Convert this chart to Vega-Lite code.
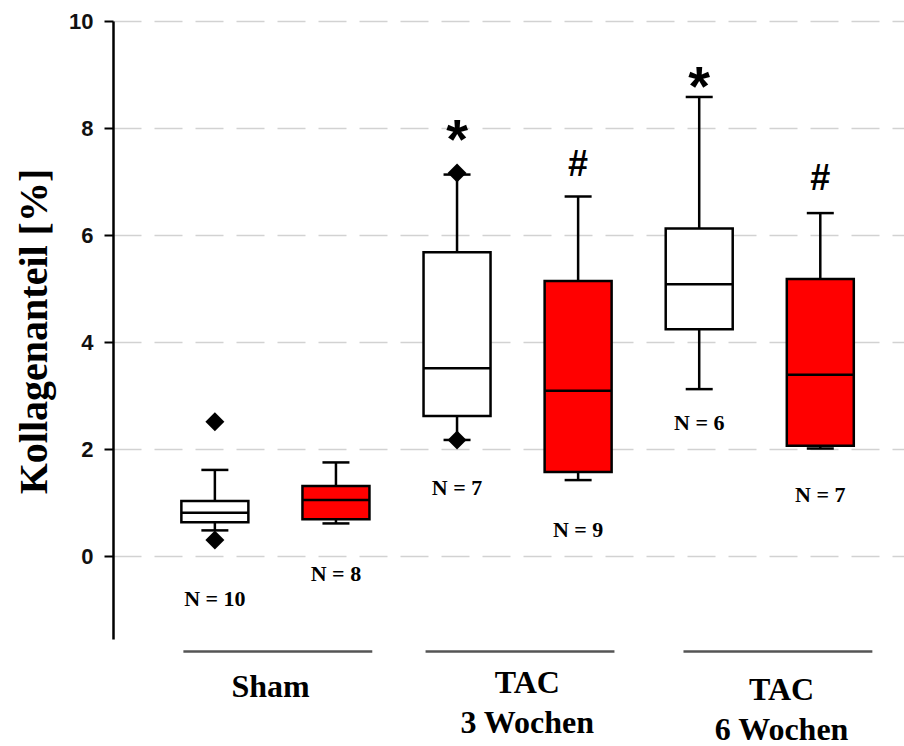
{
  "$schema": "https://vega.github.io/schema/vega-lite/v6.json",
  "width": 791,
  "height": 618,
  "autosize": "none",
  "padding": {"left": 113, "top": 21, "right": 0, "bottom": 107},
  "background": "white",
  "config": {"view": {"stroke": null}},
  "datasets": {
    "boxes": [
      {"pos": 0, "gruppe": "Kontrolle", "min": 0.48, "q1": 0.63, "median": 0.81, "q3": 1.03, "max": 1.61},
      {"pos": 1, "gruppe": "Behandelt", "min": 0.61, "q1": 0.69, "median": 1.05, "q3": 1.31, "max": 1.75},
      {"pos": 2, "gruppe": "Kontrolle", "min": 2.17, "q1": 2.62, "median": 3.51, "q3": 5.68, "max": 7.13},
      {"pos": 3, "gruppe": "Behandelt", "min": 1.42, "q1": 1.57, "median": 3.09, "q3": 5.14, "max": 6.72},
      {"pos": 4, "gruppe": "Kontrolle", "min": 3.12, "q1": 4.24, "median": 5.08, "q3": 6.12, "max": 8.58},
      {"pos": 5, "gruppe": "Behandelt", "min": 2.01, "q1": 2.06, "median": 3.39, "q3": 5.18, "max": 6.41}
    ],
    "outliers": [
      {"pos": 0, "value": 2.51},
      {"pos": 0, "value": 0.30},
      {"pos": 2, "value": 7.16},
      {"pos": 2, "value": 2.17}
    ],
    "nlabels": [
      {"pos": 0, "value": -0.81, "label": "N = 10"},
      {"pos": 1, "value": -0.34, "label": "N = 8"},
      {"pos": 2, "value": 1.27, "label": "N = 7"},
      {"pos": 3, "value": 0.49, "label": "N = 9"},
      {"pos": 4, "value": 2.48, "label": "N = 6"},
      {"pos": 5, "value": 1.14, "label": "N = 7"}
    ],
    "signif": [
      {"pos": 2, "value": 8.03, "label": "*"},
      {"pos": 3, "value": 7.34, "label": "#"},
      {"pos": 4, "value": 9.03, "label": "*"},
      {"pos": 5, "value": 7.09, "label": "#"}
    ],
    "groups": [
      {"start": -0.26, "end": 1.30, "center": 0.46, "top": -2.17, "label": "Sham"},
      {"start": 1.74, "end": 3.30, "center": 2.58, "top": -2.09, "label": "TAC\n3 Wochen"},
      {"start": 3.87, "end": 5.43, "center": 4.68, "top": -2.22, "label": "TAC\n6 Wochen"}
    ]
  },
  "layer": [
    {
      "data": {"name": "boxes"},
      "mark": {"type": "rule", "stroke": "black", "strokeWidth": 2.5},
      "encoding": {
        "x": {"field": "pos", "type": "quantitative", "scale": {"domain": [-0.8, 5.65], "nice": false, "zero": false}, "axis": null},
        "y": {
          "field": "min", "type": "quantitative",
          "scale": {"domain": [-1.55, 10], "nice": false, "zero": false},
          "axis": {
            "values": [0, 2, 4, 6, 8, 10],
            "title": "Kollagenanteil [%]",
            "grid": true,
            "gridDash": [28, 13],
            "gridColor": "#d2d2d2",
            "gridWidth": 1.5,
            "domainColor": "black",
            "domainWidth": 2.5,
            "tickColor": "black",
            "tickWidth": 2,
            "tickSize": 9,
            "labelFont": "Liberation Sans",
            "labelFontWeight": "bold",
            "labelFontSize": 22,
            "labelColor": "#111111",
            "labelPadding": 11,
            "titleFont": "Liberation Serif",
            "titleFontSize": 40,
            "titleFontWeight": "bold",
            "titleColor": "black",
            "titleX": -79,
            "titleY": 310,
            "titleAngle": -90,
            "titleAlign": "center",
            "titleBaseline": "middle"
          }
        },
        "y2": {"field": "max"}
      }
    },
    {
      "data": {"name": "boxes"},
      "mark": {"type": "bar", "width": 67, "stroke": "black", "strokeWidth": 2.5},
      "encoding": {
        "x": {"field": "pos", "type": "quantitative"},
        "y": {"field": "q1", "type": "quantitative"},
        "y2": {"field": "q3"},
        "fill": {"field": "gruppe", "type": "nominal", "scale": {"domain": ["Kontrolle", "Behandelt"], "range": ["white", "#ff0000"]}, "legend": null}
      }
    },
    {
      "data": {"name": "boxes"},
      "mark": {"type": "tick", "orient": "horizontal", "size": 67, "thickness": 2.5, "color": "black", "opacity": 1},
      "encoding": {
        "x": {"field": "pos", "type": "quantitative"},
        "y": {"field": "median", "type": "quantitative"}
      }
    },
    {
      "data": {"name": "boxes"},
      "mark": {"type": "tick", "orient": "horizontal", "size": 27, "thickness": 2.5, "color": "black", "opacity": 1},
      "encoding": {
        "x": {"field": "pos", "type": "quantitative"},
        "y": {"field": "min", "type": "quantitative"}
      }
    },
    {
      "data": {"name": "boxes"},
      "mark": {"type": "tick", "orient": "horizontal", "size": 27, "thickness": 2.5, "color": "black", "opacity": 1},
      "encoding": {
        "x": {"field": "pos", "type": "quantitative"},
        "y": {"field": "max", "type": "quantitative"}
      }
    },
    {
      "data": {"name": "outliers"},
      "mark": {"type": "point", "shape": "diamond", "filled": true, "size": 360, "color": "black", "opacity": 1},
      "encoding": {
        "x": {"field": "pos", "type": "quantitative"},
        "y": {"field": "value", "type": "quantitative"}
      }
    },
    {
      "data": {"name": "nlabels"},
      "mark": {"type": "text", "font": "Liberation Serif", "fontWeight": "bold", "fontSize": 22, "baseline": "middle", "align": "center", "color": "black"},
      "encoding": {
        "x": {"field": "pos", "type": "quantitative"},
        "y": {"field": "value", "type": "quantitative"},
        "text": {"field": "label"}
      }
    },
    {
      "data": {"name": "signif"},
      "transform": [{"filter": "datum.label === '*'"}],
      "mark": {"type": "text", "font": "Liberation Sans", "fontWeight": "bold", "fontSize": 56, "baseline": "middle", "align": "center", "color": "black", "dy": 15},
      "encoding": {
        "x": {"field": "pos", "type": "quantitative"},
        "y": {"field": "value", "type": "quantitative"},
        "text": {"field": "label"}
      }
    },
    {
      "data": {"name": "signif"},
      "transform": [{"filter": "datum.label === '#'"}],
      "mark": {"type": "text", "font": "Liberation Sans", "fontWeight": "bold", "fontSize": 36, "baseline": "middle", "align": "center", "color": "black", "dy": 2},
      "encoding": {
        "x": {"field": "pos", "type": "quantitative"},
        "y": {"field": "value", "type": "quantitative"},
        "text": {"field": "label"}
      }
    },
    {
      "data": {"name": "groups"},
      "mark": {"type": "rule", "stroke": "#555555", "strokeWidth": 2.5},
      "encoding": {
        "x": {"field": "start", "type": "quantitative"},
        "x2": {"field": "end"},
        "y": {"datum": -1.785}
      }
    },
    {
      "data": {"name": "groups"},
      "mark": {"type": "text", "font": "Liberation Serif", "fontWeight": "bold", "fontSize": 32, "baseline": "top", "align": "center", "color": "black", "lineBreak": "\n", "lineHeight": 40},
      "encoding": {
        "x": {"field": "center", "type": "quantitative"},
        "y": {"field": "top", "type": "quantitative"},
        "text": {"field": "label"}
      }
    }
  ]
}
